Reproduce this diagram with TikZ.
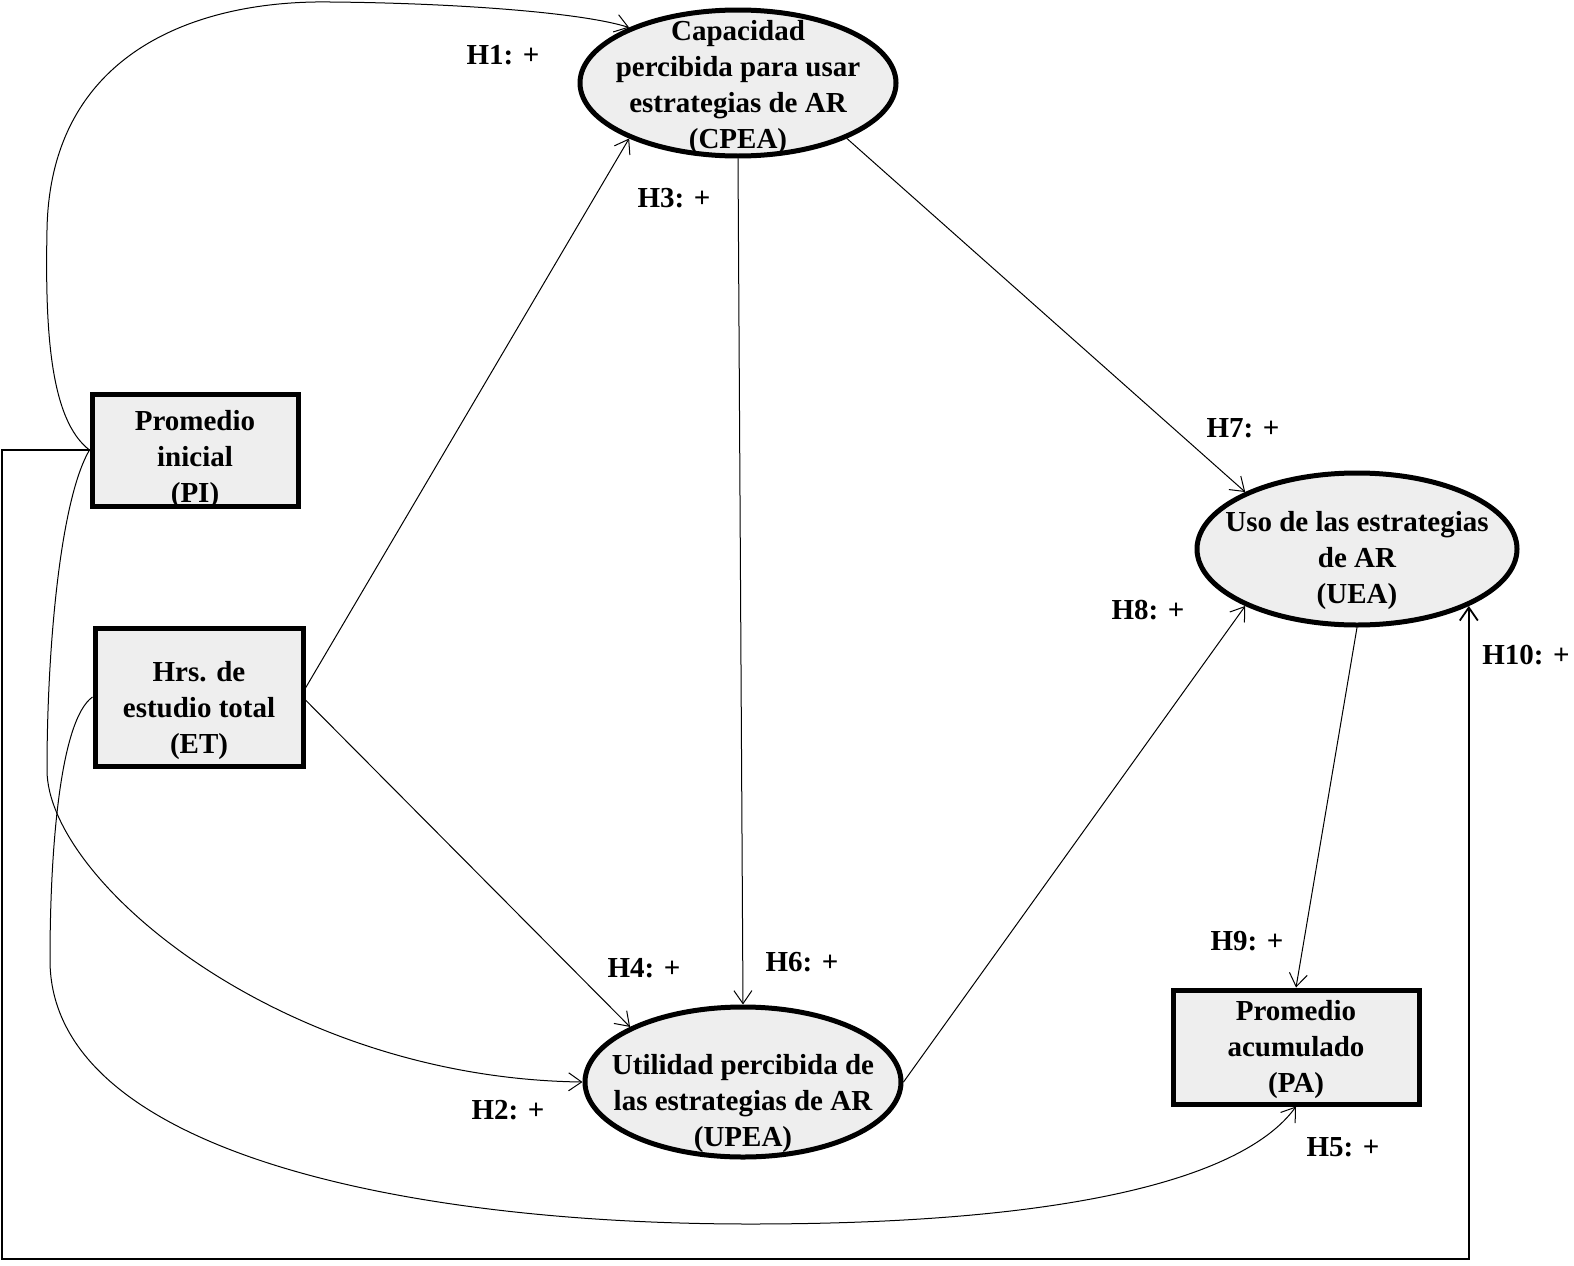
\documentclass[tikz,border=0pt]{standalone}
\usepackage{fontspec}
\setmainfont{Liberation Serif}
\usetikzlibrary{shapes.geometric,arrows.meta}
\definecolor{boxfill}{RGB}{238,238,238}
\newcommand{\ntext}[2]{\makebox[0pt]{\smash{\raisebox{#1pt}{\begin{tabular}{@{}c@{}}#2\end{tabular}}}}}
\begin{document}
\begin{tikzpicture}[x=1pt,y=-1pt,
  every node/.style={font=\bfseries\fontsize{29}{36}\selectfont},
  oval/.style={ellipse,draw,line width=5pt,fill=boxfill,inner sep=0pt},
  rbox/.style={rectangle,draw,line width=5pt,fill=boxfill,inner sep=0pt},
  conn/.style={line width=1pt,-{Straight Barb[length=13pt,width=18pt]}},
  hlab/.style={inner sep=0pt}]
\useasboundingbox (0,0) rectangle (1574,1266);
% nodes
\node[oval,minimum width=316pt,minimum height=146pt] (CPEA) at (738,83) {\ntext{-11}{Capacidad\\percibida para usar\\estrategias de AR\\(CPEA)}};
\node[oval,minimum width=320pt,minimum height=152pt] (UEA) at (1357,549) {\ntext{-18}{Uso de las estrategias\\de AR\\(UEA)}};
\node[oval,minimum width=316pt,minimum height=150pt] (UPEA) at (743,1082) {\ntext{-28}{Utilidad percibida de\\las estrategias de AR\\(UPEA)}};
\node[rbox,minimum width=206pt,minimum height=112pt] (PI) at (195,450) {\ntext{-16}{Promedio\\inicial\\(PI)}};
\node[rbox,minimum width=208pt,minimum height=138pt] (ET) at (199,697) {\ntext{-20}{Hrs. de\\estudio total\\(ET)}};
\node[rbox,minimum width=246pt,minimum height=114pt] (PA) at (1296,1047) {\ntext{-9}{Promedio\\acumulado\\(PA)}};
% labels
\node[hlab] (l1) at (503,55) {H1: +};
\node[hlab] (l3) at (674,198) {H3: +};
\node[hlab] (l7) at (1243,428) {H7: +};
\node[hlab] (l8) at (1148,610) {H8: +};
\node[hlab] (l10) at (1526,655) {H10: +};
\node[hlab] (l4) at (644,968) {H4: +};
\node[hlab] (l6) at (802,962) {H6: +};
\node[hlab] (l9) at (1247,941) {H9: +};
\node[hlab] (l2) at (508,1110) {H2: +};
\node[hlab] (l5) at (1343,1147) {H5: +};
% connectors
\draw[conn] (PI.west) .. controls (50,420) and (45,330) .. (47,230)
  .. controls (50,50) and (200,0) .. (330,2)
  .. controls (450,3) and (580,12) .. (CPEA.153);
\draw[conn] (PI.west) .. controls (60,500) and (47,650) .. (47,770)
  .. controls (47,880) and (280,1078) .. (UPEA.west);
\draw[conn] (ET.west) .. controls (60,720) and (50,850) .. (50,960)
  .. controls (50,1150) and (400,1224) .. (750,1224)
  .. controls (1100,1224) and (1250,1170) .. (PA.south);
\draw[line width=1.8pt,-{Straight Barb[length=13pt,width=18pt]}] (PI.west) -- (2,450) |- (UEA.-27 |- 0,1259) -- (UEA.-27);
\draw[conn] ([yshift=9pt]ET.east) -- (CPEA.207);
\draw[conn] ([yshift=-3pt]ET.east) -- (UPEA.154);
\draw[conn] (CPEA.south) -- (UPEA.north);
\draw[conn] (CPEA.-27) -- (UEA.153);
\draw[conn] (UPEA.east) -- (UEA.207);
\draw[conn] (UEA.south) -- (PA.north);
\end{tikzpicture}
\end{document}
